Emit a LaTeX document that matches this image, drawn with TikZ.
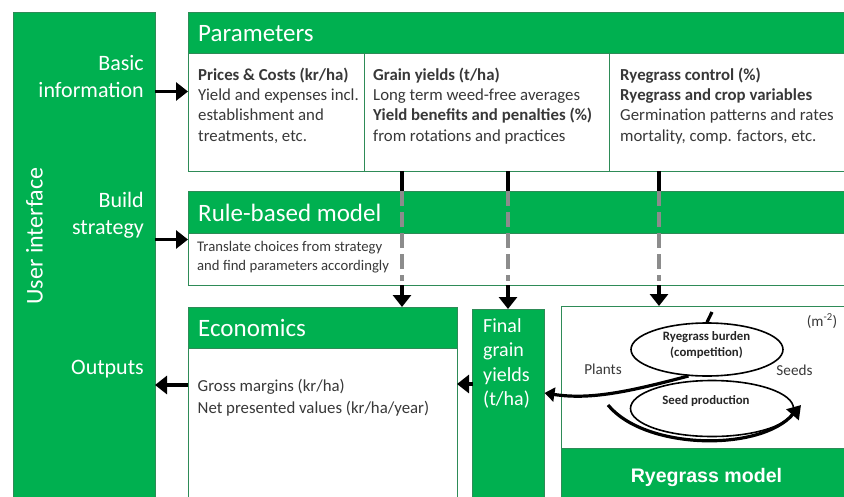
\documentclass[tikz,border=0pt]{standalone}
\usepackage{fontspec}
\setmainfont{Carlito}
\newfontfamily\arialfont{Liberation Sans}
\usetikzlibrary{arrows.meta,shapes.geometric}
\definecolor{xgreen}{HTML}{00B050}
\definecolor{xborder}{HTML}{2E8B57}
\definecolor{xtext}{HTML}{383838}
\definecolor{xdash}{HTML}{8C8C8C}
\begin{document}
\begin{tikzpicture}[x=1pt,y=-1pt,
  greenbox/.style={fill=xgreen,draw=xborder,line width=0.8pt,inner sep=0pt,outer sep=0pt,anchor=north west},
  whitebox/.style={fill=white,draw=xborder,line width=0.8pt,inner sep=0pt,outer sep=0pt,anchor=north west},
  hdr/.style={text=white,font=\fontsize{25}{30}\selectfont,anchor=west,inner sep=0pt},
  body/.style={text=xtext,font=\fontsize{16.8}{20.3}\selectfont,align=left,anchor=north west,inner sep=0pt},
  side/.style={text=white,font=\fontsize{22}{27}\selectfont,align=right,anchor=north east,inner sep=0pt},
  arr/.style={line width=3.2pt,-{Triangle[width=18pt,length=12pt]}},
  blackseg/.style={line width=3.2pt},
  grayseg/.style={line width=3.2pt,draw=xdash,dash pattern=on 15pt off 6pt},
  oval/.style={ellipse,draw=black,line width=1.6pt,fill=white,inner sep=0pt},
  small/.style={text=xtext,font=\fontsize{15.2}{18}\selectfont,inner sep=0pt},
  ovaltext/.style={text=black!85,font=\bfseries\fontsize{12.8}{16}\selectfont,align=center,inner sep=0pt},
  curve/.style={line width=3.2pt,line cap=round}
]
\useasboundingbox (0,0) rectangle (844,496);
\fill[white] (0,0) rectangle (844,496);

% User interface
\node[greenbox,minimum width=142pt,minimum height=500pt] (ui) at (13,12) {};
\node[text=white,font=\fontsize{24}{29}\selectfont,rotate=90,inner sep=0pt] (uilabel) at (34.5,236) {User interface};
\node[side] (basic) at (144,51.1) {\strut Basic\\\strut information};
\node[side] (build) at (144,188.1) {\strut Build\\\strut strategy};
\node[side] (outputs) at (144,355.1) {\strut Outputs};

% Parameters
\node[greenbox,minimum width=660pt,minimum height=41pt] (parH) at (188,12) {};
\node[hdr] (parT) at (198,33.5) {Parameters};
\node[whitebox,minimum width=176pt,minimum height=118pt] (col1) at (188,53) {};
\node[whitebox,minimum width=245pt,minimum height=118pt] (col2) at (364,53) {};
\node[whitebox,minimum width=240pt,minimum height=118pt] (col3) at (609,53) {};
\node[body] (t1) at (198,65.8) {\strut\textbf{Prices \& Costs (kr/ha)}\\\strut Yield and expenses incl.\\\strut establishment and\\\strut treatments, etc.};
\node[body] (t2) at (373,65.8) {\strut\textbf{Grain yields (t/ha)}\\\strut Long term weed-free averages\\\strut\textbf{Yield benefits and penalties (\%)}\\\strut from rotations and practices};
\node[body] (t3) at (620,65.8) {\strut\textbf{Ryegrass control (\%)}\\\strut\textbf{Ryegrass and crop variables}\\\strut Germination patterns and rates\\\strut mortality, comp. factors, etc.};

% Rule-based model
\node[greenbox,minimum width=660pt,minimum height=42pt] (rbH) at (188,191) {};
\node[hdr] (rbT) at (198,212.5) {Rule-based model};
\node[whitebox,minimum width=660pt,minimum height=52pt] (rbB) at (188,233) {};
\node[body,font=\fontsize{14.7}{18.7}\selectfont] (rbText) at (197,238.7) {\strut Translate choices from strategy\\\strut and find parameters accordingly};

% Economics
\node[greenbox,minimum width=269pt,minimum height=41pt] (ecH) at (188,307) {};
\node[hdr] (ecT) at (198,328) {Economics};
\node[whitebox,minimum width=269pt,minimum height=160pt] (ecB) at (188,348) {};
\node[body,font=\fontsize{16.8}{21.7}\selectfont] (ecText) at (197.5,376.3) {\strut Gross margins (kr/ha)\\\strut Net presented values (kr/ha/year)};

% Final grain yields
\node[greenbox,minimum width=72pt,minimum height=200pt] (fg) at (472.5,309) {};
\node[body,text=white,font=\fontsize{20}{24.4}\selectfont] (fgText) at (483,315.3) {\strut Final\\\strut grain\\\strut yields\\\strut (t/ha)};

% Ryegrass model
\node[whitebox,minimum width=290pt,minimum height=142pt] (rgB) at (561,306) {};
\node[greenbox,minimum width=290pt,minimum height=60pt] (rgH) at (561,448) {};
\node[text=white,font=\arialfont\bfseries\fontsize{19.6}{23}\selectfont,anchor=base,inner sep=0pt] (rgT) at (706.5,482) {Ryegrass model};

\node[small,anchor=center] (m2) at (822,321) {(m\textsuperscript{-2})};
\node[small,anchor=center] (plants) at (603,369) {Plants};
\node[small,anchor=center] (seeds) at (794.5,370) {Seeds};

\node[oval,minimum width=163pt,minimum height=56pt] (e2) at (712,408.5) {};
\node[oval,minimum width=152pt,minimum height=53pt] (e1) at (707,349.5) {};
\node[ovaltext] (e1t) at (706.5,345.3) {Ryegrass burden\\(competition)};
\node[ovaltext] (e2t) at (706,401) {Seed production};

\coordinate (stubEnd) at (712,312);
\draw[line width=3.2pt] (e1.north) -- (stubEnd);
\coordinate (seedStart) at (608,405);
\coordinate (seedTip) at (801,405);
\draw[line width=3.2pt,-{Triangle[width=16pt,length=13pt]}] (seedStart) .. controls (645,450) and (760,452) .. (seedTip);
\draw[line width=3.2pt,-{Triangle[width=14pt,length=10pt]}] (e1.235) .. controls (628,392) and (590,400) .. (fg.east |- 0,393);

% Left arrows
\draw[arr] (ui.east |- 0,91.5) -- (col1.west |- 0,91.5);
\draw[arr] (ui.east |- 0,239.5) -- (rbB.west |- 0,239.5);
\draw[arr] (ecB.west |- 0,385) -- (ui.east |- 0,385);
\draw[arr] (fg.west |- 0,384) -- (ecB.east |- 0,384);

% Parameter to model connectors
\foreach \cx/\target in {402/ecH, 508/fg, 659/rgB} {
  \draw[blackseg] (\cx,171) -- (\cx,191);
  \draw[grayseg] (\cx,191) -- (\cx,281);
  \draw[arr] (\cx,285) -- (\target.north -| \cx,0);
}
\end{tikzpicture}
\end{document}
